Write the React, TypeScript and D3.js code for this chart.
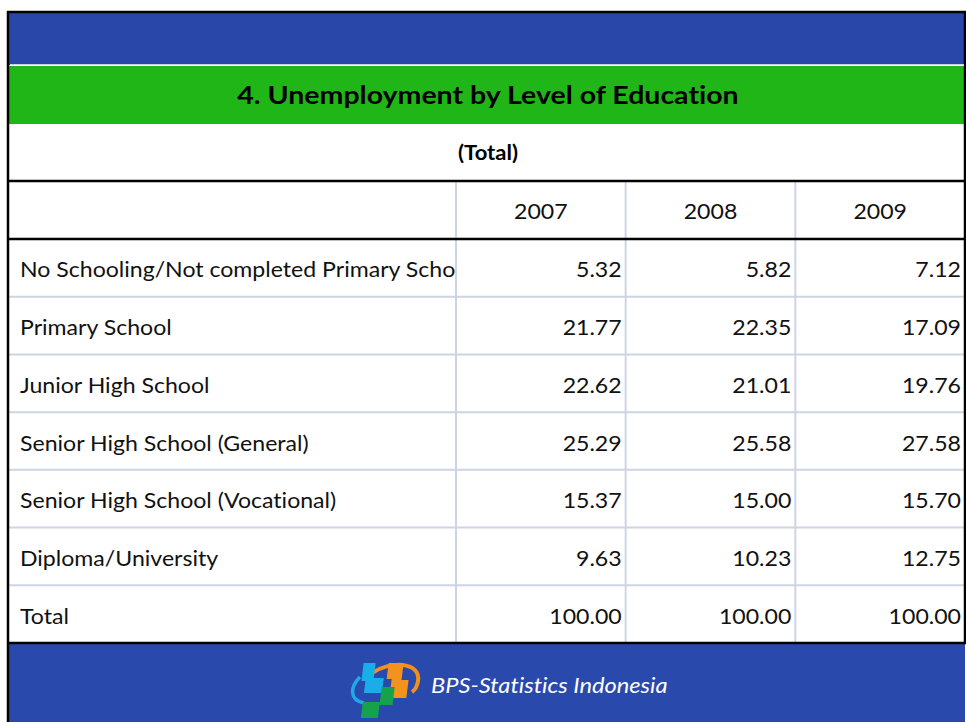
import { useEffect, useRef } from "react";
import * as d3 from "d3";

const title = "4. Unemployment by Level of Education";
const subtitle = "(Total)";
const years = ["2007", "2008", "2009"];
const categories = [
  "No Schooling/Not completed Primary School",
  "Primary School",
  "Junior High School",
  "Senior High School (General)",
  "Senior High School (Vocational)",
  "Diploma/University",
  "Total",
];
const values2007 = [5.32, 21.77, 22.62, 25.29, 15.37, 9.63, 100.0];
const values2008 = [5.82, 22.35, 21.01, 25.58, 15.0, 10.23, 100.0];
const values2009 = [7.12, 17.09, 19.76, 27.58, 15.7, 12.75, 100.0];
const footerText = "BPS-Statistics Indonesia";

const W = 966;
const H = 722;
const FONT = "Lato, 'Open Sans', sans-serif";

export default function App() {
  const svgRef = useRef<SVGSVGElement>(null);

  useEffect(() => {
    const svg = d3.select(svgRef.current);
    svg.selectAll("*").remove();

    const left = 8, right = 965;
    const labelRight = 456;
    const headTop = 181, rowsTop = 239, rowsBottom = 643;

    const xCol = d3.scaleBand<string>().domain(years).range([labelRight, right]);
    const yRow = d3.scaleBand<string>().domain(categories).range([rowsTop, rowsBottom]);
    const series = [values2007, values2008, values2009];

    // text drawn a little wider than the font, like the stretched slide
    const wide = (g: any, x: number, y: number, sx: number) =>
      g.append("text").attr("transform", `translate(${x},${y}) scale(${sx},1)`)
        .attr("font-family", FONT).style("font-variant-ligatures", "none");

    svg.append("rect").attr("width", W).attr("height", H).attr("fill", "#fff");

    // blue top band
    svg.append("rect").attr("x", left).attr("y", 12).attr("width", right - left).attr("height", 53).attr("fill", "#2847a8");
    // green title band
    svg.append("rect").attr("x", left).attr("y", 66).attr("width", right - left).attr("height", 58).attr("fill", "#20b618");
    wide(svg, 488, 104, 1.14).attr("text-anchor", "middle").attr("font-weight", 700)
      .attr("font-size", 25).attr("fill", "#000").text(title);
    wide(svg, 488, 160, 1.1).attr("text-anchor", "middle").attr("font-weight", 700)
      .attr("font-size", 20).attr("fill", "#000").text(subtitle);

    // footer band
    svg.append("rect").attr("x", left).attr("y", rowsBottom).attr("width", right - left).attr("height", H - rowsBottom).attr("fill", "#2a49ad");

    // grid lines
    const grid = svg.append("g").attr("stroke", "#cdd4e3").attr("stroke-width", 2);
    categories.slice(1).forEach(c => {
      grid.append("line").attr("x1", left).attr("x2", right).attr("y1", yRow(c)!).attr("y2", yRow(c)!);
    });
    years.forEach(y => {
      grid.append("line").attr("x1", xCol(y)!).attr("x2", xCol(y)!).attr("y1", headTop).attr("y2", rowsBottom);
    });

    // black rules
    const rules = svg.append("g").attr("stroke", "#000").attr("stroke-width", 2.5);
    [12, headTop, rowsTop, rowsBottom].forEach(v => {
      rules.append("line").attr("x1", left - 1).attr("x2", right + 1).attr("y1", v).attr("y2", v);
    });
    rules.append("line").attr("x1", left).attr("x2", left).attr("y1", 11).attr("y2", H);
    rules.append("line").attr("x1", right).attr("x2", right).attr("y1", 11).attr("y2", rowsBottom);
    svg.append("line").attr("x1", left + 2).attr("x2", right - 1).attr("y1", 65).attr("y2", 65)
      .attr("stroke", "#fff").attr("stroke-width", 1.5);

    // header years
    years.forEach(d => {
      wide(svg, xCol(d)! + xCol.bandwidth() / 2, 219, 1.1)
        .attr("text-anchor", "middle").attr("font-size", 21).attr("fill", "#111").text(d);
    });

    // row labels, clipped at the first column line
    svg.append("defs").append("clipPath").attr("id", "labelClip")
      .append("rect").attr("x", left).attr("y", rowsTop).attr("width", labelRight - left - 1).attr("height", rowsBottom - rowsTop);
    const labels = svg.append("g").attr("clip-path", "url(#labelClip)");
    categories.forEach(d => {
      wide(labels, 20, yRow(d)! + yRow.bandwidth() / 2 + 9.5, 1.1)
        .attr("font-size", 21).attr("fill", "#111").text(d);
    });

    // values
    years.forEach((yr, i) => {
      series[i].forEach((v, j) => {
        wide(svg, xCol(yr)! + xCol.bandwidth() - 4, yRow(categories[j])! + yRow.bandwidth() / 2 + 9.5, 1.1)
          .attr("text-anchor", "end").attr("font-size", 21).attr("fill", "#111").text(d3.format(".2f")(v));
      });
    });

    // BPS logo
    const logo = svg.append("g").attr("transform", "translate(345,660)");
    logo.append("path").attr("d", "M15,17 C5,27 4,40 19,43").attr("fill", "none").attr("stroke", "#1ea9e8").attr("stroke-width", 3.5);
    logo.append("path").attr("d", "M27,13 C44,1 76,1 73,21 C72,27 70,30 67,32").attr("fill", "none").attr("stroke", "#f0901e").attr("stroke-width", 4);
    const blocks = logo.append("g").attr("transform", "translate(4,0) skewX(-7)");
    blocks.append("path").attr("d", "M15,3 L27,3 L27,18 L37,18 L37,33 L19,33 L19,21 L15,21 Z").attr("fill", "#1aaee8");
    blocks.append("path").attr("d", "M40,3 L55,3 L55,20 L62,20 L62,38 L45,38 L45,19 L40,19 Z").attr("fill", "#f3921c");
    blocks.append("path").attr("d", "M36,27 L49,27 L49,45 L36,45 L36,58 L19,58 L19,42 L36,42 Z").attr("fill", "#16a24a");

    wide(svg, 431, 693, 1.1).attr("font-style", "italic").attr("font-size", 21.5)
      .attr("fill", "#fff").text(footerText);
  }, []);

  return (
    <svg ref={svgRef} width={W} height={H}
      style={{ position: "absolute", left: 0, top: 0, display: "block" }} />
  );
}
